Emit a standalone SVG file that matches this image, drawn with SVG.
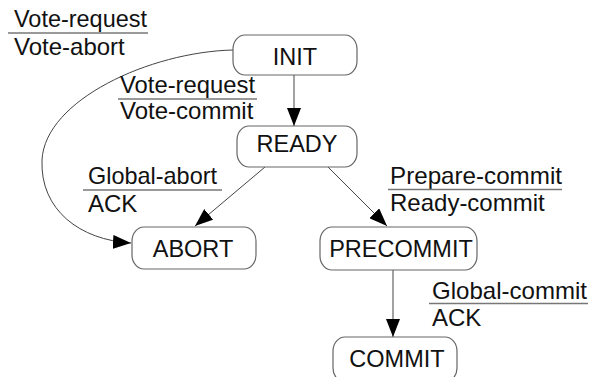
<svg xmlns="http://www.w3.org/2000/svg" width="591" height="377" viewBox="0 0 591 377">
<style>
text{font-family:"Liberation Sans",Arial,sans-serif;font-size:24px;fill:#111}
.node text{font-size:23.5px}
.node rect{fill:#fff;stroke:#666;stroke-width:1.2}
.c{text-anchor:middle}
.edge{fill:none;stroke:#444;stroke-width:1}
.ul{stroke:#777;stroke-width:1.5}
</style>
<defs>
<marker id="ah" markerUnits="userSpaceOnUse" markerWidth="18" markerHeight="14" refX="18" refY="7" orient="auto">
<path d="M0,0 L18,7 L0,14 z" fill="#000"/>
</marker>
</defs>
<g id="connectors">
<path class="edge" d="M233,50 C150,52 45,100 42,160 C40,210 80,240 131,243" marker-end="url(#ah)"/>
<line class="edge" x1="294" y1="75" x2="294" y2="126" marker-end="url(#ah)"/>
<line class="edge" x1="265" y1="167" x2="195" y2="226" marker-end="url(#ah)"/>
<line class="edge" x1="328" y1="167" x2="387" y2="226" marker-end="url(#ah)"/>
<line class="edge" x1="393" y1="270" x2="393" y2="337" marker-end="url(#ah)"/>
</g>
<g id="labels">
<text x="14" y="27" textLength="133" lengthAdjust="spacingAndGlyphs">Vote-request</text>
<line class="ul" x1="8" y1="33" x2="148" y2="33"/>
<text x="14" y="55">Vote-abort</text>
<text x="120" y="92.5" textLength="135" lengthAdjust="spacingAndGlyphs">Vote-request</text>
<line class="ul" x1="118" y1="99" x2="257" y2="99"/>
<text x="120" y="119">Vote-commit</text>
<text x="88" y="184" textLength="129" lengthAdjust="spacingAndGlyphs">Global-abort</text>
<line class="ul" x1="83" y1="190" x2="222" y2="190"/>
<text x="88" y="212">ACK</text>
<text x="390" y="184" textLength="172" lengthAdjust="spacingAndGlyphs">Prepare-commit</text>
<line class="ul" x1="388" y1="189.5" x2="562" y2="189.5"/>
<text x="390" y="211">Ready-commit</text>
<text x="432" y="299" textLength="155" lengthAdjust="spacingAndGlyphs">Global-commit</text>
<line class="ul" x1="429" y1="303.5" x2="588" y2="303.5"/>
<text x="432" y="326">ACK</text>
</g>
<g id="INIT" class="node"><rect x="233" y="35" width="124" height="40" rx="12" ry="14"/><text class="c" x="295" y="65">INIT</text></g>
<g id="READY" class="node"><rect x="237" y="126" width="120" height="41" rx="12" ry="14"/><text class="c" x="297" y="152">READY</text></g>
<g id="ABORT" class="node"><rect x="132" y="227" width="124" height="42" rx="12" ry="14"/><text class="c" x="193" y="257">ABORT</text></g>
<g id="PRECOMMIT" class="node"><rect x="320" y="227" width="157" height="43" rx="12" ry="14"/><text class="c" x="401" y="257">PRECOMMIT</text></g>
<g id="COMMIT" class="node"><rect x="333" y="337" width="124" height="45" rx="12" ry="14"/><text class="c" x="397" y="367">COMMIT</text></g>
</svg>
